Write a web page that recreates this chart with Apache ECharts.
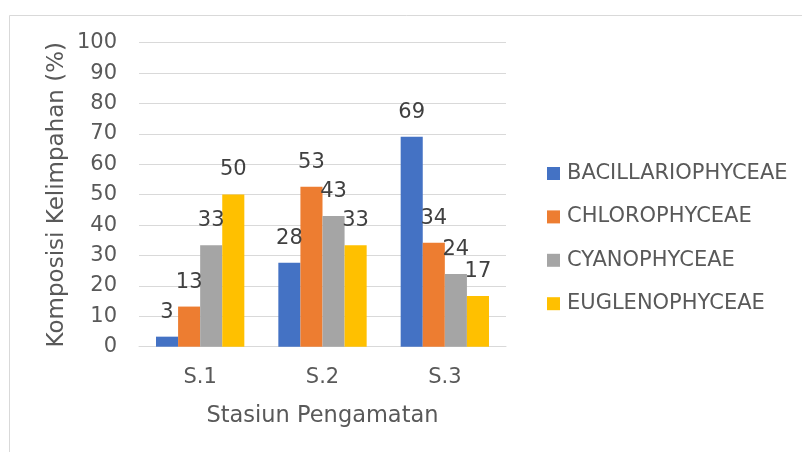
<!DOCTYPE html>
<html>
<head>
<meta charset="utf-8">
<script src="https://cdn.jsdelivr.net/npm/echarts@6/dist/echarts.min.js"></script>
<style>
  html, body { margin: 0; padding: 0; background: #fff; }
  #chart { width: 802px; height: 452px; }
</style>
</head>
<body>
<div id="chart"></div>
<script>
const stations = ['S.1', 'S.2', 'S.3']
const bacillariophyceae = [3.3, 27.6, 69.1]
const chlorophyceae = [13.2, 52.6, 34.2]
const cyanophyceae = [33.4, 43.0, 23.9]
const euglenophyceae = [50.1, 33.4, 16.7]
const yTicks = [0, 10, 20, 30, 40, 50, 60, 70, 80, 90, 100]

const font = 'DejaVu Sans'
const textColor = '#595959'

const chart = echarts.init(document.getElementById('chart'))

const makeSeries = (name, data, color) => ({
  name: name,
  type: 'bar',
  data: data,
  barGap: '0%',
  barCategoryGap: '27.8%',
  itemStyle: { color: color },
  label: {
    show: true,
    position: 'top',
    distance: 14,
    color: '#404040',
    fontFamily: font,
    fontSize: 21,
    formatter: p => Math.round(p.value)
  }
})

const option = {
  backgroundColor: '#fff',
  animation: false,
  graphic: [{
    type: 'rect',
    left: 7,
    top: 13,
    shape: { width: 810, height: 460 },
    style: { fill: 'none', stroke: '#d9d9d9', lineWidth: 1 },
    silent: true
  }],
  grid: {
    left: 139,
    right: 296,
    top: 42.7,
    bottom: 105.3
  },
  legend: {
    orient: 'vertical',
    left: 542,
    top: 157.5,
    itemWidth: 13,
    itemHeight: 13,
    itemGap: 21.4,
    icon: 'rect',
    textStyle: {
      color: textColor,
      fontFamily: font,
      fontSize: 21,
      lineHeight: 22,
      padding: [0, 0, 0, 2]
    },
    data: ['BACILLARIOPHYCEAE', 'CHLOROPHYCEAE', 'CYANOPHYCEAE', 'EUGLENOPHYCEAE']
  },
  xAxis: {
    type: 'category',
    data: stations,
    name: 'Stasiun Pengamatan',
    nameLocation: 'middle',
    nameGap: 58,
    nameTextStyle: { color: textColor, fontFamily: font, fontSize: 22.5 },
    axisLine: { lineStyle: { color: '#d9d9d9', width: 1 } },
    axisTick: { show: false },
    axisLabel: { color: textColor, fontFamily: font, fontSize: 21, margin: 20 }
  },
  yAxis: {
    type: 'value',
    min: yTicks[0],
    max: yTicks[yTicks.length - 1],
    interval: 10,
    name: 'Komposisi Kelimpahan (%)',
    nameLocation: 'middle',
    nameGap: 70,
    nameTextStyle: { color: textColor, fontFamily: font, fontSize: 23 },
    axisLine: { show: false },
    axisTick: { show: false },
    axisLabel: { color: textColor, fontFamily: font, fontSize: 21, margin: 22 },
    splitLine: { lineStyle: { color: '#d9d9d9', width: 1 } }
  },
  series: [
    makeSeries('BACILLARIOPHYCEAE', bacillariophyceae, '#4472C4'),
    makeSeries('CHLOROPHYCEAE', chlorophyceae, '#ED7D31'),
    makeSeries('CYANOPHYCEAE', cyanophyceae, '#A5A5A5'),
    makeSeries('EUGLENOPHYCEAE', euglenophyceae, '#FFC000')
  ]
}

chart.setOption(option)
</script>
</body>
</html>
